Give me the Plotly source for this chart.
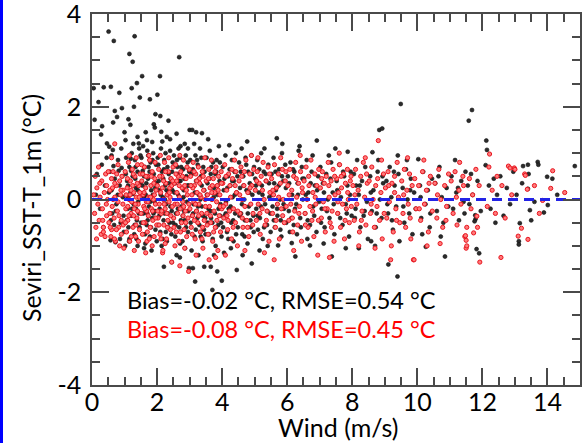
import plotly.graph_objects as go

# ---------------- data ----------------
black_points = [
    (0.08,1.72),(0.05,2.40),(0.2,2.1),(0.28,1.40),(0.31,1.58),(0.36,2.42),(0.46,1.21),(0.15,0.55),(0.25,-0.2),(0.4,0.3),(0.35,-0.6),(0.45,0.9),(0.12,0.1),(0.3,0.75),
    (0.51,3.62),(0.58,2.43),(0.65,1.66),(0.67,3.42),(0.70,1.91),(0.77,1.78),(0.84,2.30),(0.92,1.97),(0.53,1.14),(0.64,1.07),(0.55,0.6),(0.6,0.2),(0.62,-0.3),(0.57,-0.88),(0.72,-0.92),(0.7,0.45),(0.75,-0.1),(0.8,0.85),(0.85,0.3),(0.88,-0.5),(0.9,1.1),(0.95,0.05),(0.98,-0.7),(0.82,0.62),(0.68,-0.55),(0.93,0.5),(0.6,0.95),
    (1.0,1.45),(1.03,1.28),(1.12,1.73),(1.15,3.14),(1.18,1.61),(1.22,2.40),(1.25,2.97),(1.29,2.00),(1.31,3.52),(1.38,2.51),(1.44,1.21),(1.47,2.20),(1.4,1.35),(1.05,0.9),(1.08,0.4),(1.1,-0.2),(1.12,-0.6),(1.15,0.7),(1.18,0.15),(1.2,-0.35),(1.22,1.0),(1.25,0.5),(1.28,-0.1),(1.3,-0.75),(1.32,0.85),(1.35,0.25),(1.38,-0.45),(1.4,0.6),(1.42,-0.05),(1.45,1.1),(1.48,0.35),(1.02,-1.0),(1.4,-1.0),(1.1,0.05),(1.2,0.62),(1.35,-0.2),(1.27,1.2),(1.46,-0.6),(1.15,-0.85),(1.33,0.45),
    (1.54,2.66),(1.65,1.45),(1.69,1.28),(1.78,2.16),(1.85,1.24),(1.90,1.62),(1.93,1.55),(1.95,1.84),(1.52,0.9),(1.55,0.3),(1.58,-0.3),(1.6,-1.05),(1.62,0.7),(1.65,0.1),(1.68,-0.55),(1.7,1.05),(1.72,0.45),(1.75,-0.15),(1.78,-0.8),(1.8,0.8),(1.82,0.2),(1.85,-0.4),(1.88,1.0),(1.9,0.55),(1.92,-0.05),(1.95,-0.65),(1.98,0.35),(1.57,1.15),(1.63,-0.75),(1.73,0.95),(1.83,-1.1),(1.97,0.75),(1.6,0.5),(1.7,-0.3),(1.87,0.1),(1.77,0.6),(1.93,-0.25),
    (2.01,2.26),(2.09,2.66),(2.10,1.80),(2.13,1.46),(2.35,1.70),(2.3,1.35),(2.4,1.3),(2.21,-1.45),(2.45,-1.35),(2.02,0.9),(2.05,0.4),(2.08,-0.2),(2.1,-0.7),(2.12,1.1),(2.15,0.6),(2.18,0.05),(2.2,-0.45),(2.22,0.85),(2.25,0.3),(2.28,-0.1),(2.3,-0.9),(2.32,0.7),(2.35,0.15),(2.38,-0.5),(2.4,1.05),(2.42,0.45),(2.45,-0.25),(2.48,0.8),(2.03,-0.55),(2.16,1.25),(2.27,-0.7),(2.36,0.55),(2.44,-0.75),(2.06,0.2),(2.24,0.0),(2.47,0.2),(2.14,-1.0),(2.33,-0.3),(2.19,0.45),
    (2.68,3.07),(2.6,1.42),(2.72,1.15),(2.85,1.2),(2.95,1.1),(2.6,-1.2),(2.7,-1.25),(2.98,-1.48),(2.52,0.95),(2.55,0.35),(2.58,-0.3),(2.62,0.7),(2.65,0.1),(2.68,-0.6),(2.7,0.9),(2.72,0.4),(2.75,-0.15),(2.78,-0.9),(2.8,0.65),(2.82,0.2),(2.85,-0.45),(2.88,0.95),(2.9,0.5),(2.92,-0.05),(2.95,-0.7),(2.97,0.3),(2.56,-0.8),(2.66,1.1),(2.76,0.0),(2.86,-1.05),(2.94,0.8),(2.63,0.55),(2.83,-0.25),(2.73,-0.45),
    (3.0,1.5),(3.08,1.50),(3.2,1.45),(3.38,1.43),(3.1,-1.48),(3.17,-1.77),(3.45,-1.45),(3.02,0.85),(3.05,0.3),(3.08,-0.35),(3.1,0.65),(3.12,-0.1),(3.15,-0.8),(3.18,0.95),(3.2,0.4),(3.22,-0.25),(3.25,0.75),(3.28,0.1),(3.3,-0.55),(3.32,1.1),(3.35,0.5),(3.38,-0.15),(3.4,-0.9),(3.42,0.7),(3.45,0.2),(3.48,-0.4),(3.06,-1.1),(3.27,-1.2),(3.14,1.2),(3.36,0.9),(3.44,-0.65),(3.24,-0.4),(3.33,0.0),
    (3.65,-1.45),(3.7,-1.95),(3.85,-1.55),(3.99,-1.75),(3.52,0.9),(3.55,0.35),(3.58,-0.2),(3.6,-0.75),(3.62,1.05),(3.65,0.55),(3.68,0.0),(3.7,-0.5),(3.72,0.8),(3.75,0.25),(3.78,-0.3),(3.8,-1.0),(3.82,0.6),(3.85,0.1),(3.88,-0.55),(3.9,1.15),(3.92,0.4),(3.95,-0.1),(3.98,-0.8),(3.57,1.3),(3.75,-1.2),(3.83,0.85),(3.94,-0.35),(3.66,-0.4),
    (4.22,1.17),(4.45,-1.52),(4.02,0.7),(4.05,0.2),(4.08,-0.35),(4.1,0.95),(4.12,-0.05),(4.15,-0.7),(4.18,0.5),(4.2,-0.2),(4.25,0.3),(4.28,-0.5),(4.3,0.85),(4.32,0.05),(4.35,-0.9),(4.38,0.6),(4.4,-0.3),(4.42,1.0),(4.45,0.15),(4.48,-0.6),(4.06,-1.15),(4.27,-1.05),(4.36,0.4),
    (4.91,-1.38),(4.52,0.8),(4.55,0.25),(4.58,-0.3),(4.6,1.1),(4.62,-0.75),(4.65,0.5),(4.68,0.0),(4.7,-0.45),(4.72,0.9),(4.75,0.2),(4.78,-0.95),(4.8,0.6),(4.82,-0.15),(4.85,0.35),(4.88,-0.6),(4.9,0.95),(4.93,0.1),(4.96,-0.35),(4.98,0.7),(4.63,-1.2),(4.77,1.25),
    (5.3,1.1),(5.02,0.45),(5.05,-0.2),(5.08,0.85),(5.1,-0.65),(5.13,0.15),(5.16,-0.4),(5.2,1.0),(5.22,0.3),(5.25,-0.85),(5.28,0.6),(5.32,-0.1),(5.35,0.4),(5.38,-0.55),(5.42,0.75),(5.45,0.05),(5.48,-0.3),(5.15,-1.1),(5.4,-1.0),
    (5.68,1.32),(5.72,-0.99),(5.85,1.2),(5.84,1.0),(5.52,0.55),(5.55,-0.15),(5.58,0.9),(5.62,-0.6),(5.65,0.2),(5.7,-0.35),(5.75,0.65),(5.78,0.0),(5.82,-0.8),(5.88,0.4),(5.9,-0.2),(5.94,0.75),(5.97,-0.5),(5.6,0.35),(5.8,-0.45),
    (6.14,-0.94),(6.25,-1.23),(6.35,1.05),(6.38,1.15),(6.02,0.5),(6.05,-0.25),(6.1,0.8),(6.15,0.1),(6.2,-0.55),(6.22,0.6),(6.28,-0.1),(6.32,0.35),(6.4,-0.4),(6.45,0.7),(6.48,0.0),(6.08,-0.7),(6.3,-0.75),
    (6.7,-0.99),(6.91,1.27),(6.52,0.45),(6.55,-0.3),(6.6,0.85),(6.65,0.15),(6.7,-0.55),(6.75,0.6),(6.8,-0.15),(6.85,0.3),(6.9,-0.7),(6.95,0.5),(6.98,-0.05),(6.62,-0.85),(6.78,0.95),
    (7.37,-1.23),(7.48,1.1),(7.02,0.7),(7.06,-0.2),(7.1,0.35),(7.15,-0.6),(7.2,0.55),(7.25,0.0),(7.3,-0.4),(7.35,0.8),(7.4,0.15),(7.45,-0.75),(7.12,-0.95),(7.28,0.95),
    (7.86,1.03),(7.8,-1.05),(7.52,0.4),(7.56,-0.3),(7.6,0.75),(7.65,0.05),(7.7,-0.55),(7.75,0.5),(7.8,-0.1),(7.85,0.3),(7.9,-0.8),(7.95,0.6),(7.98,-0.35),
    (8.2,-1.05),(8.05,0.55),(8.1,-0.2),(8.15,0.85),(8.2,0.1),(8.25,-0.6),(8.3,0.4),(8.35,-0.35),(8.4,0.7),(8.45,-0.05),(8.48,-0.85),(8.12,0.3),
    (8.62,1.02),(8.70,-1.0),(8.83,1.50),(8.92,1.53),(8.55,0.5),(8.6,-0.25),(8.65,0.2),(8.72,-0.6),(8.78,0.6),(8.85,0.0),(8.9,-0.4),(8.95,0.35),(8.58,-0.9),(8.8,0.85),
    (9.11,-1.40),(9.39,-1.66),(9.4,0.95),(9.49,2.06),(9.05,0.4),(9.1,-0.3),(9.15,0.7),(9.2,0.05),(9.25,-0.65),(9.3,0.3),(9.35,-0.15),(9.42,0.55),(9.45,-0.9),(9.22,-0.45),
    (9.55,0.25),(9.6,-0.5),(9.65,0.65),(9.7,0.0),(9.75,-0.3),(9.8,0.45),(9.85,-0.75),(9.9,0.15),(9.95,-0.2),(9.68,0.85),
    (10.03,0.87),(10.26,-1.02),(10.08,0.3),(10.12,-0.4),(10.18,0.6),(10.25,-0.1),(10.32,0.2),(10.38,-0.6),(10.45,0.45),(10.15,-0.75),
    (10.85,-1.23),(10.55,0.35),(10.6,-0.25),(10.68,0.7),(10.75,0.05),(10.8,-0.5),(10.9,0.25),(10.95,-0.15),(10.72,-0.8),
    (11.16,0.85),(11.05,0.5),(11.1,-0.2),(11.2,0.15),(11.28,-0.45),(11.35,0.4),(11.42,-0.05),(11.48,0.6),
    (11.58,1.70),(11.68,1.93),(11.78,-0.34),(11.79,-0.42),(11.76,-0.47),(11.82,-1.07),(11.9,-1.16),(11.55,0.3),(11.6,-0.1),(11.65,0.55),(11.7,0.1),(11.85,0.4),(11.95,-0.25),
    (12.12,1.27),(12.14,1.07),(12.1,0.74),(12.2,0.3),(12.25,-0.2),(12.35,0.45),(12.4,-0.5),(12.45,0.1),
    (12.55,0.5),(12.65,-0.35),(12.75,0.25),(12.85,-0.1),(12.95,0.6),
    (13.25,0.72),(13.4,0.75),(13.42,0.55),(13.4,0.23),(13.22,0.35),(13.46,-0.23),(13.5,-0.45),(13.15,-0.51),(13.12,-0.9),(13.12,-0.97),(13.05,0.1),
    (13.70,0.81),(13.72,0.75),(13.99,0.49),(14.15,0.45),(14.01,-0.12),(13.89,-0.28),(14.84,0.72),(14.3,0.1),(13.6,-0.05),
    # denser core of the black cloud
    (0.52,0.15),(0.58,-0.45),(0.66,0.72),(0.73,-0.25),(0.79,0.1),(0.86,-0.85),(0.91,0.68),(0.97,-0.35),
    (1.04,0.55),(1.07,-0.45),(1.11,0.3),(1.14,-0.9),(1.19,0.88),(1.23,-0.2),(1.26,0.12),(1.31,-0.55),(1.34,0.7),(1.37,-0.85),(1.41,0.2),(1.44,-0.3),(1.49,0.95),
    (1.51,-0.5),(1.56,0.62),(1.59,0.05),(1.64,-0.95),(1.67,0.35),(1.71,-0.45),(1.74,0.7),(1.79,-0.05),(1.81,-0.6),(1.86,0.85),(1.89,-0.3),(1.94,0.25),(1.99,-0.9),
    (2.04,0.75),(2.07,-0.35),(2.11,0.1),(2.17,-0.85),(2.21,0.65),(2.23,-0.3),(2.26,1.0),(2.29,0.2),(2.34,-0.6),(2.37,0.35),(2.41,-0.15),(2.46,0.6),(2.49,-0.5),
    (2.53,0.15),(2.57,-0.55),(2.61,0.85),(2.64,-0.2),(2.67,0.4),(2.71,-0.95),(2.74,0.7),(2.79,-0.35),(2.81,0.05),(2.84,0.45),(2.89,-0.6),(2.93,0.3),(2.96,-0.25),(2.99,0.6),
    (3.03,-0.5),(3.07,0.55),(3.11,-0.3),(3.16,0.15),(3.19,-0.65),(3.23,0.85),(3.26,-0.15),(3.29,0.45),(3.34,-0.8),(3.37,0.3),(3.41,-0.35),(3.46,0.6),(3.49,-0.75),
    (3.53,0.1),(3.56,-0.5),(3.61,0.45),(3.64,-0.25),(3.67,0.7),(3.71,-0.85),(3.74,0.05),(3.79,0.55),(3.81,-0.6),(3.86,0.3),(3.89,-0.2),(3.93,0.8),(3.97,-0.5),
    (4.03,-0.6),(4.07,0.45),(4.11,-0.3),(4.16,0.25),(4.19,-0.85),(4.23,0.65),(4.26,-0.15),(4.31,0.4),(4.34,-0.45),(4.39,0.1),(4.43,-0.75),(4.47,0.5),
    (4.53,-0.35),(4.57,0.6),(4.61,-0.1),(4.66,0.3),(4.69,-0.8),(4.74,0.75),(4.79,-0.3),(4.83,0.15),(4.87,-0.45),(4.92,0.55),(4.97,-0.7),
    (5.04,0.3),(5.09,-0.35),(5.14,0.65),(5.19,-0.15),(5.24,0.1),(5.29,-0.6),(5.34,0.55),(5.39,-0.25),(5.44,0.35),(5.49,-0.7),
    (5.54,0.1),(5.59,-0.45),(5.64,0.6),(5.69,-0.2),(5.74,0.3),(5.79,-0.65),(5.84,0.5),(5.89,-0.1),(5.96,0.25),
    (6.06,0.35),(6.13,-0.4),(6.18,0.65),(6.24,-0.2),(6.33,0.1),(6.42,-0.6),(6.47,0.45),
    (6.57,0.1),(6.63,-0.45),(6.72,0.35),(6.83,-0.35),(6.92,0.2),
    (7.04,-0.5),(7.13,0.15),(7.22,-0.25),(7.33,0.45),(7.43,-0.1),
    (7.54,0.2),(7.63,-0.4),(7.72,0.6),(7.83,-0.3),(7.93,0.1),
    (8.08,-0.4),(8.23,0.3),(8.38,-0.25),(8.57,0.15),(8.75,-0.3),(8.93,0.5),(9.08,-0.1),(9.28,0.6),(9.57,-0.15),(9.78,0.2),(10.1,0.05),(10.4,-0.3),(10.65,0.5),(11.25,0.25),(11.45,-0.3),
]

red_points = [
    (0.05,0.1),(0.08,-0.3),(0.1,0.5),(0.12,-0.6),(0.15,0.25),(0.18,-0.1),(0.2,0.7),(0.22,-0.45),(0.25,0.05),(0.28,-0.75),(0.3,0.4),(0.32,-0.2),(0.35,-0.6),(0.38,0.15),(0.4,-0.8),(0.42,0.55),(0.45,-0.35),(0.48,0.0),(0.35,-0.7),(0.45,0.3),
    (0.52,-0.5),(0.55,0.2),(0.58,-0.8),(0.6,0.45),(0.62,-0.15),(0.65,0.6),(0.68,-0.4),(0.7,0.05),(0.72,-0.9),(0.75,0.3),(0.78,-0.25),(0.8,0.75),(0.82,-0.6),(0.85,-1.0),(0.88,0.1),(0.9,-0.45),(0.92,0.5),(0.95,-0.1),(0.98,-1.05),(0.55,-0.3),(0.65,0.0),(0.75,-0.65),(0.85,0.4),(0.95,0.2),(0.6,-0.65),(0.7,0.35),(0.8,-0.05),(0.9,-0.75),(0.7,1.2),(0.6,0.9),
    (1.02,0.6),(1.04,-0.2),(1.06,-0.7),(1.08,0.25),(1.1,-0.45),(1.12,0.8),(1.14,0.0),(1.16,-0.9),(1.18,0.4),(1.2,-0.3),(1.22,-0.05),(1.24,0.65),(1.26,-0.6),(1.28,0.15),(1.3,-0.2),(1.32,0.5),(1.34,-0.8),(1.36,0.05),(1.38,-0.4),(1.4,0.75),(1.42,-0.1),(1.44,0.3),(1.46,-0.65),(1.48,0.55),(1.3,-1.1),(1.15,0.95),(1.05,0.1),(1.25,0.3),(1.35,-0.55),(1.45,0.05),(1.1,-0.15),(1.2,0.2),(1.4,-0.25),(1.28,-0.35),(1.36,0.9),
    (1.51,-0.3),(1.53,0.4),(1.55,-0.75),(1.57,0.1),(1.59,-0.15),(1.61,0.7),(1.63,-0.5),(1.65,0.25),(1.67,-0.05),(1.69,-0.9),(1.71,0.5),(1.73,-0.35),(1.75,0.05),(1.77,0.85),(1.79,-0.6),(1.81,0.3),(1.83,-0.2),(1.85,0.6),(1.87,-0.45),(1.89,0.0),(1.91,-0.8),(1.93,0.45),(1.95,-0.1),(1.97,0.2),(1.99,-0.55),(1.6,0.15),(1.7,-0.7),(1.8,0.05),(1.9,0.35),(1.65,-1.15),(1.85,-1.0),(1.75,0.95),(1.56,0.55),(1.94,0.8),(1.68,-0.25),
    (2.01,0.3),(2.03,-0.4),(2.05,0.65),(2.07,-0.1),(2.09,-0.75),(2.11,0.15),(2.13,-0.3),(2.15,0.5),(2.17,-1.15),(2.18,-1.1),(2.19,0.0),(2.21,-0.55),(2.23,0.8),(2.25,-0.2),(2.27,0.35),(2.29,-0.85),(2.31,0.1),(2.33,-0.45),(2.35,0.6),(2.37,-0.05),(2.39,0.25),(2.41,-0.65),(2.43,0.45),(2.45,-1.35),(2.47,-0.15),(2.49,0.7),(2.1,0.95),(2.2,0.4),(2.3,-0.3),(2.4,0.05),(2.25,-0.95),(2.45,0.3),(2.06,-0.55),(2.36,0.9),(2.14,-0.25),
    (2.51,-0.4),(2.53,0.35),(2.55,-0.1),(2.57,0.75),(2.59,-0.7),(2.61,0.15),(2.63,-0.3),(2.65,0.5),(2.67,-0.9),(2.69,0.05),(2.7,-1.43),(2.71,-0.2),(2.73,0.6),(2.75,-0.5),(2.77,0.25),(2.79,-0.05),(2.81,0.85),(2.83,-0.65),(2.85,0.3),(2.87,-0.25),(2.89,0.45),(2.91,-0.8),(2.93,0.1),(2.95,-0.4),(2.97,-1.55),(2.99,0.65),(2.6,0.4),(2.8,-0.35),(2.9,0.2),(2.7,0.95),(2.55,-1.0),(2.85,-1.05),
    (3.01,-0.2),(3.03,0.5),(3.05,-0.6),(3.07,0.1),(3.09,-0.35),(3.11,0.8),(3.13,-0.05),(3.15,0.3),(3.17,-0.85),(3.19,0.55),(3.21,-0.25),(3.23,0.15),(3.25,-0.5),(3.27,0.7),(3.29,-0.1),(3.31,0.35),(3.33,-0.7),(3.35,0.05),(3.37,-0.3),(3.39,0.6),(3.41,-1.05),(3.43,0.2),(3.45,-0.45),(3.47,0.9),(3.49,-0.15),(3.2,-1.2),(3.1,0.25),(3.3,0.45),(3.4,-0.6),(3.15,-0.45),
    (3.51,0.4),(3.53,-0.3),(3.55,0.1),(3.57,-0.75),(3.59,0.65),(3.61,-0.15),(3.63,0.25),(3.65,-0.5),(3.67,0.85),(3.69,0.0),(3.71,-0.9),(3.73,0.45),(3.75,-0.25),(3.77,0.15),(3.79,-0.6),(3.81,0.7),(3.83,-0.05),(3.85,0.3),(3.87,-1.1),(3.89,0.5),(3.91,-0.35),(3.93,0.1),(3.95,-0.7),(3.97,0.6),(3.99,-0.2),(3.6,-1.3),(3.8,-1.25),(3.7,0.3),
    (4.02,0.35),(4.05,-0.4),(4.08,0.75),(4.11,-0.1),(4.14,0.2),(4.17,-0.65),(4.2,0.55),(4.23,-0.25),(4.26,0.05),(4.29,-0.85),(4.32,0.45),(4.35,-0.2),(4.38,0.85),(4.41,-0.5),(4.44,0.15),(4.47,-1.0),(4.1,-1.2),(4.3,0.65),(4.4,0.3),(4.15,-0.35),
    (4.52,0.4),(4.55,-0.3),(4.58,0.7),(4.61,0.0),(4.64,-0.6),(4.67,0.3),(4.7,-0.15),(4.73,0.85),(4.76,-0.45),(4.79,0.15),(4.82,-0.8),(4.85,0.55),(4.88,-0.1),(4.91,0.3),(4.94,-0.55),(4.97,0.65),(4.7,-1.1),(4.9,0.95),(4.6,0.5),
    (5.02,0.2),(5.05,-0.45),(5.08,0.6),(5.11,-0.1),(5.14,0.35),(5.17,-0.75),(5.2,0.5),(5.23,-0.2),(5.26,0.8),(5.29,0.0),(5.32,-0.55),(5.35,0.4),(5.38,-0.25),(5.41,0.7),(5.44,-0.9),(5.47,0.15),(5.3,-1.15),(5.1,0.9),
    (5.52,0.45),(5.55,-0.3),(5.58,0.1),(5.61,0.75),(5.64,-0.6),(5.67,0.25),(5.7,-0.1),(5.73,0.55),(5.76,-0.85),(5.79,0.35),(5.82,-0.2),(5.85,0.65),(5.88,0.0),(5.91,-0.5),(5.94,0.4),(5.97,-0.15),(5.6,-1.3),(5.8,0.9),
    (6.02,0.3),(6.05,-0.45),(6.08,0.65),(6.11,-0.1),(6.14,0.2),(6.17,-0.7),(6.2,0.5),(6.23,-0.25),(6.26,0.8),(6.29,0.05),(6.32,-0.55),(6.35,0.35),(6.38,-0.15),(6.41,0.6),(6.44,-0.9),(6.47,0.15),(6.2,-1.1),(6.4,0.95),
    (6.52,0.4),(6.55,-0.3),(6.58,0.7),(6.61,0.0),(6.64,-0.6),(6.67,0.3),(6.7,-0.15),(6.73,0.85),(6.76,-0.45),(6.79,0.15),(6.82,-0.8),(6.85,0.55),(6.88,-0.1),(6.91,0.3),(6.94,-1.2),(6.97,0.65),
    (7.02,0.25),(7.05,-0.4),(7.08,0.6),(7.11,-0.05),(7.14,0.35),(7.17,-0.7),(7.2,0.5),(7.23,-0.2),(7.26,0.8),(7.29,0.05),(7.32,-0.5),(7.35,0.4),(7.38,-0.25),(7.41,0.65),(7.44,-0.9),(7.47,0.1),(7.3,-1.25),
    (7.52,0.45),(7.55,-0.3),(7.58,0.15),(7.61,0.75),(7.64,-0.6),(7.67,0.25),(7.7,-0.1),(7.73,0.55),(7.76,-0.85),(7.79,0.35),(7.82,-0.2),(7.85,0.65),(7.88,0.0),(7.91,-0.5),(7.94,0.4),(7.97,-0.15),(7.6,1.0),
    (8.02,0.3),(8.06,-0.45),(8.1,0.65),(8.14,-0.1),(8.18,0.2),(8.22,-0.7),(8.26,0.5),(8.3,-0.25),(8.34,0.8),(8.38,0.05),(8.42,-0.55),(8.46,0.35),(8.2,-1.0),(8.4,0.9),
    (8.52,0.4),(8.56,-0.3),(8.6,0.7),(8.64,0.0),(8.68,-0.6),(8.72,0.3),(8.76,-0.15),(8.8,1.27),(8.84,-0.45),(8.88,0.15),(8.92,-0.85),(8.96,0.55),(8.7,-1.05),(8.9,0.85),
    (9.02,0.25),(9.06,-0.4),(9.1,0.6),(9.14,-0.05),(9.18,-1.3),(9.22,0.35),(9.26,-0.7),(9.3,0.5),(9.34,-0.2),(9.38,0.8),(9.42,0.05),(9.46,-0.5),(9.2,-1.0),(9.3,0.15),
    (9.52,0.4),(9.56,-0.3),(9.6,0.65),(9.64,-0.6),(9.68,0.2),(9.72,-0.1),(9.76,0.55),(9.8,-0.85),(9.84,0.3),(9.88,-1.3),(9.92,0.45),(9.96,-0.2),(9.9,-1.3),(9.7,0.9),
    (10.04,0.3),(10.1,-0.45),(10.16,0.6),(10.22,-0.1),(10.28,0.2),(10.34,-0.7),(10.4,0.5),(10.46,-0.25),(10.2,0.85),(10.3,-1.0),
    (10.54,0.35),(10.6,-0.4),(10.66,0.65),(10.72,0.0),(10.78,-0.6),(10.84,0.3),(10.9,-0.15),(10.96,0.55),(10.7,-0.95),
    (11.04,0.4),(11.1,-0.3),(11.16,0.6),(11.22,-0.55),(11.28,0.2),(11.34,-0.1),(11.4,0.5),(11.46,-0.8),(11.3,0.8),
    (11.5,-1.05),(11.52,-1.0),(11.5,-0.88),(11.48,-0.78),(11.52,-0.6),(11.83,-0.36),(11.73,-0.72),(11.85,-0.6),(11.92,-1.35),(11.6,0.45),(11.7,0.1),(11.8,0.65),(11.9,0.3),(11.65,-0.2),
    (12.22,0.98),(12.2,0.7),(12.3,0.2),(12.4,-0.3),(12.45,0.5),(12.15,-0.15),
    (12.57,-1.25),(12.8,0.72),(12.85,0.68),(12.98,0.68),(13.0,0.65),(12.6,0.3),(12.7,-0.4),(12.9,0.1),
    (13.3,0.55),(13.32,0.52),(13.38,0.22),(13.2,-0.62),(13.1,-0.79),(13.4,-0.86),(13.85,-0.02),(14.16,0.62),(14.10,0.24),(14.53,0.15),(13.6,0.3),(13.75,-0.3),
    # denser core of the red cloud
    (0.14,-0.85),(0.24,0.35),(0.33,-0.45),(0.44,-0.1),(0.5,0.6),(0.56,-0.6),(0.63,0.25),(0.69,-0.85),(0.76,0.55),(0.83,-0.35),(0.89,0.2),(0.96,-0.55),
    (1.03,-0.5),(1.09,0.45),(1.13,-0.35),(1.17,0.1),(1.21,-0.8),(1.27,0.55),(1.33,-0.1),(1.39,0.35),(1.43,-0.9),(1.47,0.15),
    (1.52,0.75),(1.58,-0.5),(1.62,-0.2),(1.66,0.5),(1.72,-0.05),(1.76,-0.85),(1.82,0.5),(1.86,-0.25),(1.92,0.1),(1.96,-0.4),
    (2.02,-0.25),(2.08,0.5),(2.12,-0.85),(2.16,0.25),(2.22,-0.1),(2.26,0.6),(2.32,-0.6),(2.38,0.15),(2.42,-0.35),(2.48,0.4),
    (2.52,-0.6),(2.58,0.55),(2.62,-0.1),(2.68,0.3),(2.72,-0.7),(2.78,0.5),(2.82,-0.15),(2.88,-0.5),(2.92,0.7),(2.98,-0.1),
    (3.04,0.3),(3.08,-0.75),(3.14,0.6),(3.18,-0.1),(3.22,0.4),(3.28,-0.35),(3.32,0.1),(3.38,-0.85),(3.42,0.5),(3.48,0.0),
    (3.54,-0.55),(3.58,0.45),(3.64,-0.35),(3.68,0.15),(3.74,-0.7),(3.78,0.6),(3.84,-0.45),(3.88,0.2),(3.94,-0.15),(3.98,0.35),
    (4.04,-0.15),(4.12,0.5),(4.18,-0.45),(4.24,0.3),(4.34,-0.6),(4.42,0.6),(4.48,-0.25),
    (4.54,0.1),(4.62,-0.4),(4.68,0.6),(4.78,-0.6),(4.86,0.25),(4.95,-0.3),
    (5.06,0.4),(5.16,-0.3),(5.24,0.2),(5.36,-0.45),(5.46,0.55),(5.56,0.2),(5.66,-0.45),(5.74,0.05),(5.86,-0.35),(5.96,0.6),
    (6.06,0.1),(6.16,-0.4),(6.28,0.45),(6.36,-0.3),(6.46,0.25),(6.56,-0.55),(6.66,0.5),(6.78,-0.25),(6.86,0.05),(6.96,-0.45),
    (7.06,0.45),(7.16,-0.2),(7.28,0.3),(7.36,-0.6),(7.46,0.5),(7.56,-0.05),(7.66,0.5),(7.78,-0.45),(7.86,0.15),(7.96,0.5),
    (8.08,0.1),(8.28,-0.45),(8.44,0.55),(8.58,-0.1),(8.78,0.45),(8.98,-0.3),(9.12,0.3),(9.36,-0.45),(9.58,0.1),(9.78,-0.4),(10.06,-0.2),(10.36,0.35),(10.62,0.1),(10.88,-0.45),(11.2,0.05),(11.42,0.3),
]

wind_black = [p[0] for p in black_points]
diff_black = [p[1] for p in black_points]
wind_red = [p[0] for p in red_points]
diff_red = [p[1] for p in red_points]

x_tickvals = [0, 2, 4, 6, 8, 10, 12, 14]
x_ticktext = ["0", "2", "4", "6", "8", "10", "12", "14"]
y_tickvals = [-4, -2, 0, 2, 4]
y_ticktext = ["-4", "-2", "0", "2", "4"]
x_range = [0, 15]
y_range = [-4, 4]
zero_line_x = [0, 15]
zero_line_y = [0, 0]

x_title = "Wind (m/s)"
y_title = "Seviri_SST-T_1m (°C)"
stats_black = "Bias=-0.02 °C, RMSE=0.54 °C"
stats_red = "Bias=-0.08 °C, RMSE=0.45 °C"
stats_x = 1.0
stats_y_black = -2.17
stats_y_red = -2.80

FONT = "Lato"

# ---------------- figure ----------------
fig = go.Figure()
fig.add_trace(go.Scatter(
    x=wind_black, y=diff_black, mode="markers",
    marker=dict(size=4, color="#2b2b2b", line=dict(width=0.6, color="#111111")),
    showlegend=False, hoverinfo="skip"))
fig.add_trace(go.Scatter(
    x=wind_red, y=diff_red, mode="markers",
    marker=dict(size=4.2, color="#ff7a7a", line=dict(width=1, color="#e8141e")),
    showlegend=False, hoverinfo="skip"))
fig.add_trace(go.Scatter(
    x=zero_line_x, y=zero_line_y, mode="lines",
    line=dict(color="#2323e6", width=3, dash="10px,6px"),
    showlegend=False, hoverinfo="skip"))

fig.add_annotation(x=stats_x, y=stats_y_black, text=stats_black, showarrow=False,
                   xanchor="left", yanchor="middle",
                   font=dict(family=FONT, size=23.5, color="black"))
fig.add_annotation(x=stats_x, y=stats_y_red, text=stats_red, showarrow=False,
                   xanchor="left", yanchor="middle",
                   font=dict(family=FONT, size=23.5, color="#ff0000"))

plot_w = 583 - 92 - 3
plot_h = 443 - 14 - 58

# axis titles placed as paper-anchored texts
fig.add_annotation(xref="paper", yref="paper", x=(338 - 92) / plot_w, y=-(427 - 385) / plot_h,
                   text=x_title, showarrow=False, xanchor="center", yanchor="middle",
                   font=dict(family=FONT, size=25, color="black"))
fig.add_annotation(xref="paper", yref="paper", x=(31 - 92) / plot_w, y=(385 - 208) / plot_h,
                   text=y_title, showarrow=False, textangle=-90, xanchor="center", yanchor="middle",
                   font=dict(family=FONT, size=25, color="black"))

axis_common = dict(
    showgrid=False, zeroline=False, showline=True, linecolor="#4a4a4a", linewidth=1.5,
    mirror="allticks", ticks="inside", ticklen=17, tickwidth=1.5, tickcolor="#4a4a4a",
    tickfont=dict(family=FONT, size=25, color="black"), automargin=False,
    ticklabeloverflow="allow",
)

fig.update_xaxes(range=x_range, tickvals=x_tickvals, ticktext=x_ticktext,
                 minor=dict(ticks="inside", dtick=0.5, ticklen=8, tickwidth=1.5, tickcolor="#4a4a4a"),
                 ticklabelstandoff=-6, **axis_common)
fig.update_yaxes(range=y_range, tickvals=y_tickvals, ticktext=y_ticktext,
                 minor=dict(ticks="inside", dtick=0.5, ticklen=8, tickwidth=1.5, tickcolor="#4a4a4a"),
                 ticklabelstandoff=4, **axis_common)

fig.add_shape(type="rect", xref="paper", yref="paper",
              x0=-92 / plot_w, x1=(3 - 92) / plot_w,
              y0=-58 / plot_h, y1=1 + 14 / plot_h,
              fillcolor="#0000ff", line=dict(width=0), layer="above")

fig.update_layout(
    width=583, height=443,
    margin=dict(l=92, r=3, t=14, b=58),
    paper_bgcolor="white", plot_bgcolor="white",
)

fig.write_html("out.html", config={"displayModeBar": False},
               post_script="document.body.style.margin='0';")
